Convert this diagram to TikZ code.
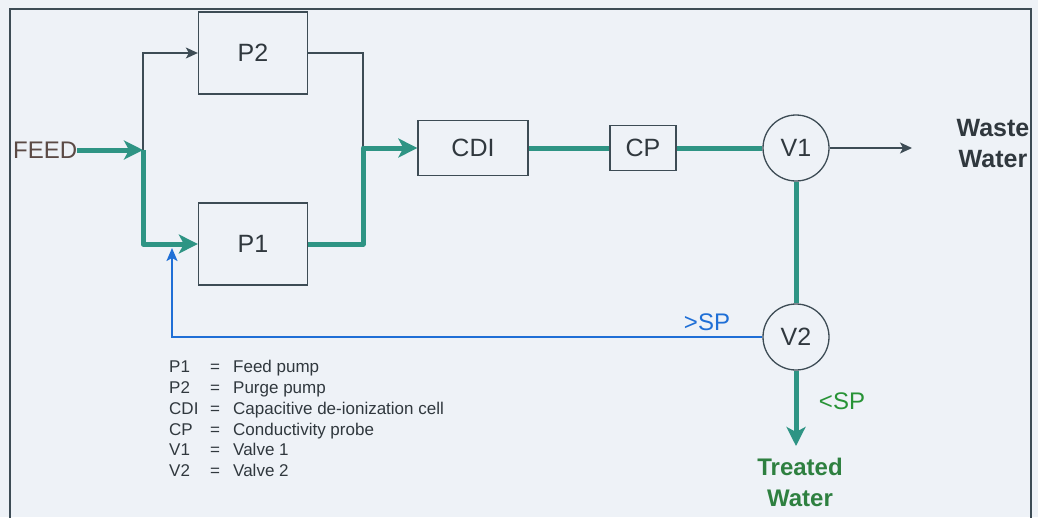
\documentclass[tikz,border=0pt]{standalone}
\usepackage{fontspec}
\setmainfont{Liberation Sans}
\usetikzlibrary{arrows.meta}
\definecolor{bg}{HTML}{EEF2F7}
\definecolor{teal2}{HTML}{2E9484}
\definecolor{line}{HTML}{3D4C55}
\definecolor{txt}{HTML}{30383E}
\definecolor{fb}{HTML}{1F6FD6}
\definecolor{grn}{HTML}{2E8040}
\definecolor{feedc}{HTML}{5B4A45}
\tikzset{
  box/.style={draw=line, line width=1.3pt, text=txt, inner sep=0pt, font=\fontsize{25}{25}\selectfont},
  valve/.style={circle, draw=line, line width=1.3pt, text=txt, inner sep=0pt, minimum size=66pt, font=\fontsize{25}{25}\selectfont},
  flow/.style={draw=teal2, line width=5pt},
  flowarrow/.style={flow, -{Stealth[length=19pt,width=19pt,inset=5pt]}},
  thinline/.style={draw=line, line width=1.3pt},
  thinarrow/.style={thinline, -{Stealth[length=12pt,width=11pt,inset=3pt]}},
  fbline/.style={draw=fb, line width=2pt, -{Stealth[length=13pt,width=11pt,inset=3pt]}},
}
\begin{document}
\begin{tikzpicture}[x=1pt,y=-1pt]
\fill[bg] (0,0) rectangle (1038,517);
\useasboundingbox (0,0) rectangle (1038,517);
\draw[line, line width=1.2pt] (10,520) -- (10,9) -- (1031,9) -- (1031,520);
% boxes
\node[box, minimum width=109pt, minimum height=82pt] (p2) at (253,53) {P2};
\node[box, minimum width=109pt, minimum height=82pt] (p1) at (253,244) {P1};
\node[box, minimum width=110pt, minimum height=55pt] (cdi) at (473,148) {CDI};
\node[box, minimum width=66pt, minimum height=45pt] (cp) at (643,148) {CP};
\node[valve] (v1) at (796,148) {V1};
\node[valve] (v2) at (796,337) {V2};
% texts
\node[text=feedc, font=\fontsize{24}{24}\selectfont, anchor=west, inner sep=0pt] (feed) at (13,150) {FEED};
\node[text=txt, font=\fontsize{25}{31}\selectfont\bfseries, align=center, inner sep=0pt] (waste) at (993,144) {Waste\\Water};
\node[text=grn, font=\fontsize{24}{31}\selectfont\bfseries, align=center, inner sep=0pt] (treated) at (800,482) {Treated\\Water};
\node[text=fb, font=\fontsize{24}{24}\selectfont, inner sep=0pt] (gtsp) at (707,322) {>SP};
\node[text=grn!85!green, font=\fontsize{24}{24}\selectfont, inner sep=0pt] (ltsp) at (842,401) {<SP};
% junctions
\coordinate (j1) at (143,150);
\coordinate (j2) at (363,148);
\coordinate (wout) at (912,148);
\coordinate (tout) at (796,446);
\coordinate (fbin) at (172,248);
% connectors
\draw[thinarrow] (j1) |- (p2.west);
\draw[thinline] (p2.east) -| (j2);
\draw[flowarrow] (feed.east) -- (j1);
\draw[flow, line join=round] (j1) |- ([xshift=-16pt]p1.west);
\draw[flowarrow] ([xshift=-22pt]p1.west) -- (p1.west);
\draw[flow, line join=round] (p1.east) -| (j2) -- ([xshift=-16pt]cdi.west);
\draw[flowarrow] ([xshift=-22pt]cdi.west) -- (cdi.west);
\draw[flow] (cdi.east) -- (cp.west);
\draw[flow] (cp.east) -- (v1.west);
\draw[thinarrow] (v1.east) -- (wout);
\draw[flow] (v1.south) -- (v2.north);
\draw[flowarrow] (v2.south) -- (tout);
\draw[fbline] (v2.west) -| (fbin);
% legend
\node[anchor=north west, inner sep=0pt, text=txt, font=\fontsize{17}{20.8}\selectfont] (legend) at (169,358) {%
\begin{tabular}{@{}p{41pt}@{}p{23pt}@{}l@{}}
P1 & = & Feed pump\\
P2 & = & Purge pump\\
CDI & = & Capacitive de-ionization cell\\
CP & = & Conductivity probe\\
V1 & = & Valve 1\\
V2 & = & Valve 2
\end{tabular}};
\end{tikzpicture}
\end{document}
